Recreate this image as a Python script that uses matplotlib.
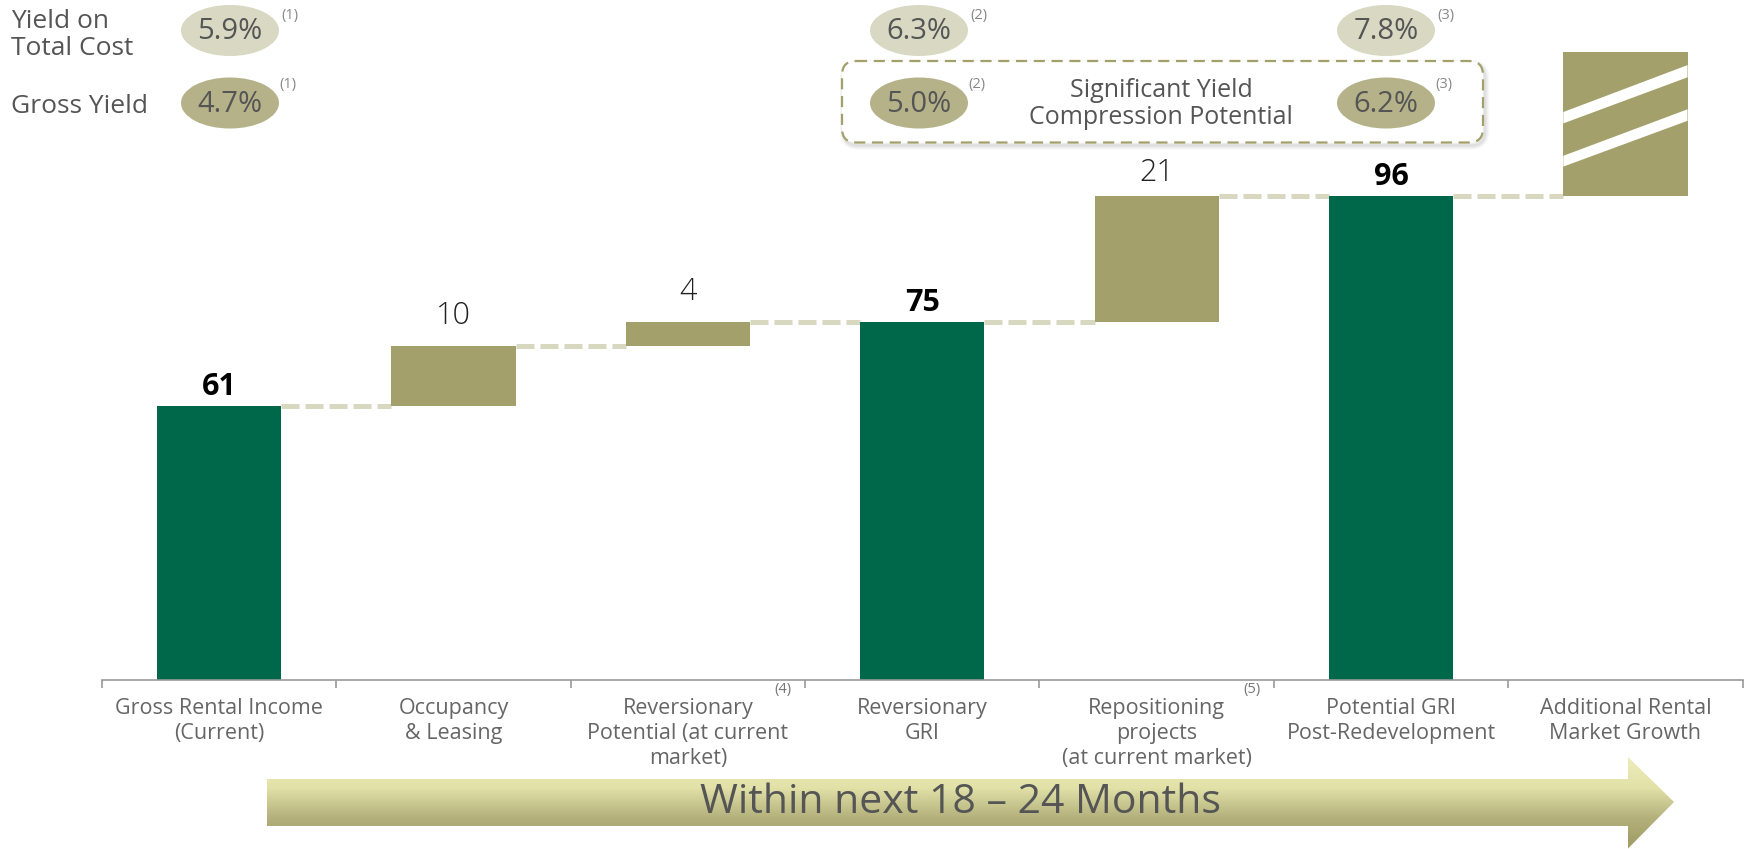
import matplotlib
matplotlib.use("Agg")
import numpy as np
import matplotlib.pyplot as plt
from matplotlib.patches import Ellipse, FancyBboxPatch, Polygon
from matplotlib.colors import LinearSegmentedColormap

plt.rcParams['font.family'] = ['Open Sans', 'DejaVu Sans']

# data
categories = ["Gross Rental Income\n(Current)", "Occupancy\n& Leasing",
              "Reversionary\nPotential (at current\nmarket)", "Reversionary\nGRI",
              "Repositioning\nprojects\n(at current market)",
              "Potential GRI\nPost-Redevelopment", "Additional Rental\nMarket Growth"]
values = [61, 10, 4, 75, 21, 96, 24]   # last one not labelled, estimated
kinds = ['total', 'delta', 'delta', 'total', 'delta', 'total', 'growth']
tick_notes = {2: '(4)', 4: '(5)'}

yield_total_cost = ['5.9%', '6.3%', '7.8%']
gross_yield = ['4.7%', '5.0%', '6.2%']
yield_notes = ['(1)', '(2)', '(3)']

GREEN = '#00684A'
OLIVE = '#A3A06B'
DASH = '#D8D7C0'
TXT = '#555555'

W, H = 1746, 849
fig = plt.figure(figsize=(W / 100, H / 100), dpi=100)

# main waterfall axes (6 px per unit, axis starts at ~15.3)
ax = fig.add_axes([102 / W, 169 / H, (1742.6 - 102) / W, 680 / H])
ax.set_xlim(-0.5, 6.5)
ax.set_ylim(15.33, 15.33 + 680 / 6)

bw = 0.53
level = 0
tops = []
for i, (v, k) in enumerate(zip(values, kinds)):
    if k == 'total':
        bottom, color = 0, GREEN
        level = v
    else:
        bottom, color = level, OLIVE
        level = level + v
    ax.bar(i, v, bottom=bottom, width=bw, color=color, zorder=2)
    tops.append(bottom + v)
    if k == 'growth':
        # white diagonal stripes across the growth bar
        x0, x1 = i - bw / 2, i + bw / 2
        for lo_l, hi_l, lo_r, hi_r in [(0.504, 0.583, 0.824, 0.909), (0.204, 0.279, 0.522, 0.602)]:
            pts = [(x0, bottom + lo_l * v), (x1, bottom + lo_r * v),
                   (x1, bottom + hi_r * v), (x0, bottom + hi_l * v)]
            ax.add_patch(Polygon(pts, closed=True, facecolor='white', edgecolor='none', zorder=3))
    elif k == 'total':
        ax.annotate(str(v), (i, bottom + v), xytext=(0, 3), textcoords='offset points',
                    ha='center', va='bottom', fontsize=22, fontweight='bold', color='black')
    else:
        off = 5 if v > 15 else 10
        ax.annotate(str(v), (i, bottom + v), xytext=(0, off), textcoords='offset points',
                    ha='center', va='bottom', fontsize=22, fontweight='light', color='#222222')

# dashed connectors
for i in range(len(values) - 1):
    lvl = tops[i]
    ax.plot([i + bw / 2, i + 1 - bw / 2], [lvl, lvl], color=DASH, lw=3.6,
            linestyle=(0, (3.6, 1.2)), dash_capstyle='butt', zorder=1)

for s in ['top', 'right', 'left']:
    ax.spines[s].set_visible(False)
ax.spines['bottom'].set_color('#999999')
ax.spines['bottom'].set_linewidth(1.2)
ax.set_yticks([])
ax.set_xticks(range(len(categories)))
ax.set_xticklabels(categories, fontsize=15.5, color='#666666', linespacing=1.25)
ax.tick_params(axis='x', which='major', length=0, pad=13)
ax.set_xticks(np.arange(-0.5, 7, 1), minor=True)
ax.tick_params(axis='x', which='minor', length=6, color='#999999', width=1.2)
ax.patch.set_alpha(0)

# overlay in pixel coordinates for annotations
ov = fig.add_axes([0, 0, 1, 1], zorder=-1)
ov.set_xlim(0, W)
ov.set_ylim(H, 0)
ov.axis('off')

ov.text(11, 35, "Yield on\nTotal Cost", fontsize=19, color=TXT, va='center', ha='left', linespacing=1.1)
ov.text(11, 106, "Gross Yield", fontsize=19, color=TXT, va='center', ha='left')

col_x = [230, 919, 1386]
for j, (cx, ytc, gy, note) in enumerate(zip(col_x, yield_total_cost, gross_yield, yield_notes)):
    z = 4 if j > 0 else 1
    ov.add_patch(Ellipse((cx, 30.5), 98, 51, facecolor='#D9D8C3', edgecolor='none'))
    ov.add_patch(Ellipse((cx, 103), 98, 51, facecolor='#B5B289', edgecolor='none', zorder=z))
    ov.text(cx, 31, ytc, fontsize=21, color=TXT, ha='center', va='center')
    ov.text(cx, 104, gy, fontsize=21, color=TXT, ha='center', va='center', zorder=z + 1)
    ov.text(cx + 60, 15, note, fontsize=10.5, color='#888888', ha='center', va='center')
    ov.text(cx + 58, 84, note, fontsize=10.5, color='#888888', ha='center', va='center', zorder=z + 1)

# dashed box with soft shadow
for k, a in [(6, 0.03), (4, 0.04), (2, 0.05)]:
    ov.add_patch(FancyBboxPatch((844, 64), 641, 81.5, boxstyle="round,pad=0,rounding_size=14",
                                facecolor='none', edgecolor='black', lw=k, alpha=a))
ov.add_patch(FancyBboxPatch((842, 61), 641, 81.5, boxstyle="round,pad=0,rounding_size=14",
                            facecolor='white', edgecolor=OLIVE, lw=1.6, linestyle=(0, (5, 3)), zorder=2))
ov.text(1161, 104, "Significant Yield\nCompression Potential", fontsize=18, color=TXT,
        ha='center', va='center', linespacing=1.1, zorder=5)

# footnote markers on tick labels
for i, note in tick_notes.items():
    cx = 102 + (i + 0.5) * (1742.6 - 102) / 7
    ov.text(cx + 95, 689, note, fontsize=10.5, color='#777777', ha='center', va='center')

# timeline arrow with gradient
arrow = [(267, 779), (1628, 779), (1628, 757), (1674, 802), (1628, 848.5), (1628, 826), (267, 826)]
poly = Polygon(arrow, closed=True, facecolor='none', edgecolor='none')
ov.add_patch(poly)
cmap = LinearSegmentedColormap.from_list('arr', ['#EDEDBD', '#E2E1A8', '#B3B07B', '#9E9A62'])
grad = np.linspace(0, 1, 256).reshape(-1, 1)
im = ov.imshow(grad, cmap=cmap, extent=(267, 1674, 849, 757), origin='upper', aspect='auto')
im.set_clip_path(poly)
ov.set_xlim(0, W)
ov.set_ylim(H, 0)
ov.text(960, 803, "Within next 18 – 24 Months", fontsize=29.5, color=TXT, ha='center', va='center')

fig.savefig('out.png', dpi=100)
